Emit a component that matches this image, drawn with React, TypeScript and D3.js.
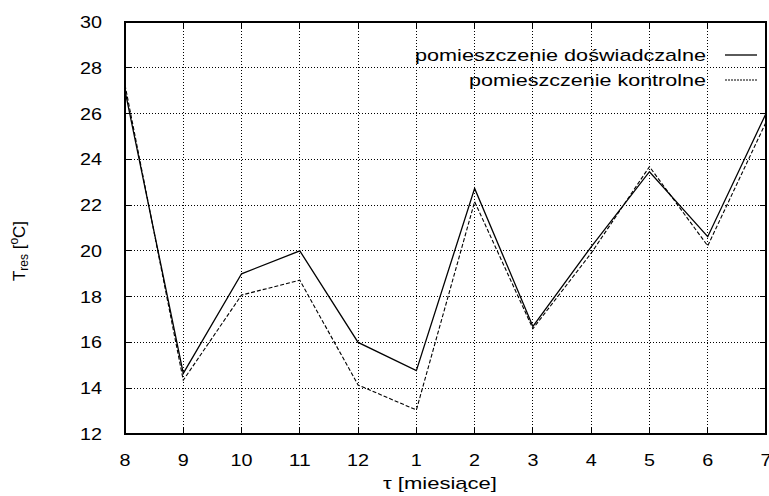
import React from "react";
import * as d3 from "d3";

const months = ["8", "9", "10", "11", "12", "1", "2", "3", "4", "5", "6", "7"];
const experimental = [27.0, 14.65, 19.0, 20.0, 16.0, 14.77, 22.73, 16.7, 20.18, 23.46, 20.62, 26.0];
const control = [27.25, 14.35, 18.07, 18.72, 14.14, 13.05, 22.15, 16.6, 19.9, 23.68, 20.22, 25.62];
const yTicks = [12, 14, 16, 18, 20, 22, 24, 26, 28, 30];
const legendLabels = ["pomieszczenie doświadczalne", "pomieszczenie kontrolne"];

const W = 769, H = 496;
const M = { left: 125, right: 3, top: 22, bottom: 62 };

export default function App() {
  const x = d3.scalePoint<string>().domain(months).range([M.left, W - M.right]);
  const y = d3.scaleLinear().domain([12, 30]).range([H - M.bottom, M.top]);
  const line = d3.line<number>().x((_, i) => x(months[i]) as number).y((d) => y(d));
  const x0 = M.left, x1 = W - M.right, y0 = H - M.bottom, y1 = M.top;
  const font = "'Liberation Sans', Arial, Helvetica, sans-serif";
  const tick = 6;
  const dw = 11;
  return (
    <svg width={W} height={H} style={{ position: "absolute", left: 0, top: 0 }} fontFamily={font}>
      <rect x={0} y={0} width={W} height={H} fill="#fff" />
      {/* grid */}
      <g stroke="#000" strokeWidth={1} strokeDasharray="1,2" shapeRendering="crispEdges">
        {yTicks.slice(1, -1).map((t) => (
          <line key={"gy" + t} x1={x0} x2={x1} y1={y(t)} y2={y(t)} />
        ))}
        {months.slice(1, -1).map((m) => (
          <line key={"gx" + m} x1={x(m)} x2={x(m)} y1={y0} y2={y1} />
        ))}
      </g>
      {/* ticks */}
      <g stroke="#000" strokeWidth={1} shapeRendering="crispEdges">
        {yTicks.map((t) => (
          <g key={"ty" + t}>
            <line x1={x0} x2={x0 + tick} y1={y(t)} y2={y(t)} />
            <line x1={x1} x2={x1 - tick} y1={y(t)} y2={y(t)} />
          </g>
        ))}
        {months.map((m) => (
          <g key={"tx" + m}>
            <line x1={x(m)} x2={x(m)} y1={y0} y2={y0 - tick} />
            <line x1={x(m)} x2={x(m)} y1={y1} y2={y1 + tick} />
          </g>
        ))}
      </g>
      {/* frame */}
      <rect x={x0} y={y1} width={x1 - x0} height={y0 - y1} fill="none" stroke="#000" strokeWidth={1.5} shapeRendering="crispEdges" />
      {/* series */}
      <path d={line(experimental) || ""} fill="none" stroke="#000" strokeWidth={1.3} />
      <path d={line(control) || ""} fill="none" stroke="#000" strokeWidth={1.1} strokeDasharray="4,2" />
      {/* tick labels */}
      <g fontSize={17} fill="#000">
        {yTicks.map((t) => (
          <text key={"ly" + t} x={102} y={y(t) + 6} textAnchor="end" textLength={String(t).length * dw} lengthAdjust="spacingAndGlyphs">{t}</text>
        ))}
        {months.map((m) => (
          <text key={"lx" + m} x={x(m)} y={466} textAnchor="middle" textLength={m.length * dw} lengthAdjust="spacingAndGlyphs">{m}</text>
        ))}
      </g>
      {/* legend */}
      <g fontSize={17} fill="#000">
        <text x={706} y={61} textAnchor="end" textLength={291} lengthAdjust="spacingAndGlyphs">{legendLabels[0]}</text>
        <text x={706} y={86} textAnchor="end" textLength={237} lengthAdjust="spacingAndGlyphs">{legendLabels[1]}</text>
        <line x1={725} x2={757} y1={55} y2={55} stroke="#000" strokeWidth={1.3} />
        <line x1={725} x2={757} y1={80} y2={80} stroke="#000" strokeWidth={1.1} strokeDasharray="2,1" />
      </g>
      {/* axis titles */}
      <text x={440} y={489} textAnchor="middle" fontSize={17} fill="#000" textLength={114} lengthAdjust="spacingAndGlyphs">τ [miesiące]</text>
      <text transform={`translate(25,${251}) rotate(-90)`} textAnchor="middle" fontSize={17} fill="#000">
        T<tspan fontSize={12} dy={3}>res</tspan>
        <tspan dy={-3}> [</tspan>
        <tspan fontSize={12} dy={-7}>o</tspan>
        <tspan dy={7}>C]</tspan>
      </text>
    </svg>
  );
}
